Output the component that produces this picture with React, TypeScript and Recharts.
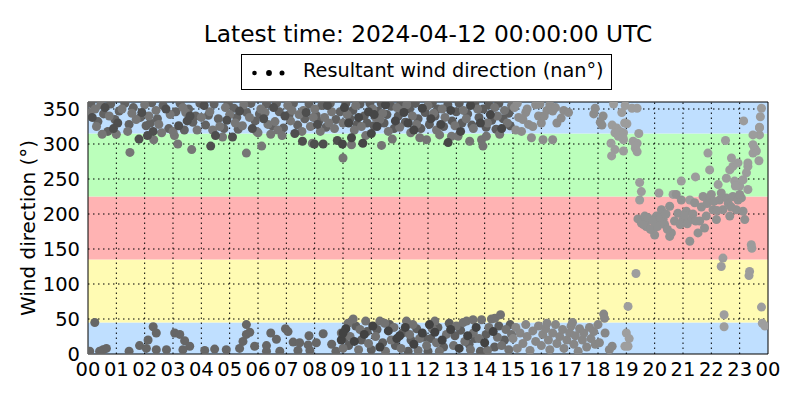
import React from 'react';
import {
  ScatterChart,
  Scatter,
  XAxis,
  YAxis,
  ZAxis,
  ReferenceArea,
  ReferenceLine,
} from 'recharts';

// hour of day (0-24) and wind direction in degrees
type Pair = [number, number];

const hourTicks = [0, 1, 2, 3, 4, 5, 6, 7, 8, 9, 10, 11, 12, 13, 14, 15, 16, 17, 18, 19, 20, 21, 22, 23, 24];
const hourLabels = ['00', '01', '02', '03', '04', '05', '06', '07', '08', '09', '10', '11', '12', '13', '14', '15', '16', '17', '18', '19', '20', '21', '22', '23', '00'];
const degTicks = [0, 50, 100, 150, 200, 250, 300, 350];

// compass sectors behind the points (N, E, S, W, N)
const sectorLows = [0, 45, 135, 225, 315];
const sectorHighs = [45, 135, 225, 315, 360];
const sectorColors = ['#bfdfff', '#fffbb3', '#ffb3b3', '#bbffbb', '#bfdfff'];

const earlyTopDark: Pair[] = [
  [0.15, 338], [0.6, 352], [1.05, 330], [1.9, 345], [2.3, 318], [2.75, 350], [3.2, 326], [3.6, 340],
  [4.1, 355], [4.5, 312], [4.9, 334], [5.35, 347], [5.8, 322], [6.2, 336], [6.55, 352], [6.95, 340],
  [7.3, 315], [7.7, 345], [8.1, 328], [8.45, 355], [8.8, 305], [7.99, 300], [8.3, 300], [2.1, 312],
  [5.1, 310], [3.5, 333], [0.9, 322], [1.8, 307], [7.57, 304], [4.33, 297],
];

const earlyTopMid: Pair[] = [
  [0.05, 345], [0.3, 325], [0.45, 356], [0.75, 340], [1.2, 350], [1.4, 318], [1.7, 335], [2.0, 356],
  [2.15, 340], [2.5, 328], [2.9, 342], [3.05, 312], [3.35, 352], [3.85, 320], [4.0, 338], [4.3, 346],
  [4.65, 325], [4.75, 310], [5.0, 342], [5.2, 330], [5.5, 356], [5.7, 338], [6.0, 316], [6.1, 350],
  [6.35, 328], [6.7, 320], [6.85, 312], [7.05, 355], [7.15, 333], [7.45, 342], [7.55, 318], [7.85, 325],
  [8.0, 350], [8.2, 318], [8.35, 338], [8.6, 346], [8.7, 322], [1.0, 314], [2.6, 316], [4.4, 320],
  [6.45, 314], [0.5, 314], [3.0, 318], [5.95, 318], [7.6, 348], [1.48, 288], [5.59, 287], [3.17, 300],
  [3.66, 292], [6.13, 297], [7.92, 301], [2.32, 306], [0.25, 350], [1.55, 344], [2.4, 348], [3.45, 345],
  [4.85, 352], [5.45, 326], [6.25, 345], [6.6, 332], [7.2, 348], [7.95, 338], [8.5, 330],
];

const earlyTopExtra: Pair[] = [
  [0.1, 358], [0.35, 332], [0.55, 343], [0.8, 357], [0.95, 335], [1.1, 347], [1.3, 358], [1.45, 328],
  [1.6, 352], [1.85, 338], [2.05, 326], [2.25, 359], [2.45, 336], [2.65, 355], [2.85, 322], [3.1, 346],
  [3.25, 358], [3.4, 320], [3.55, 350], [3.7, 331], [3.95, 358], [4.15, 327], [4.25, 341], [4.45, 357],
  [4.6, 336], [4.8, 322], [4.95, 358], [5.15, 351], [5.3, 321], [5.6, 345], [5.75, 358], [5.9, 333],
  [6.05, 343], [6.3, 357], [6.5, 326], [6.75, 346], [6.9, 323], [7.1, 342], [7.25, 358], [7.4, 327],
  [7.65, 336], [7.8, 357], [8.05, 341], [8.25, 355], [8.4, 324], [8.55, 358], [8.75, 335], [8.9, 346],
  [0.7, 318], [2.2, 330], [3.8, 340], [5.25, 338], [6.65, 358], [8.15, 333],
];

const earlyBottom: Pair[] = [
  [0.24, 45], [0.06, 4], [0.53, 6], [0.65, 8], [0.41, 4], [1.45, 4], [1.82, 12], [2.06, 8],
  [2.3, 39], [2.41, 30], [2.12, 20], [2.41, 6], [2.77, 6], [3.06, 30], [3.24, 28], [3.41, 19],
  [3.59, 11], [3.35, 6], [4.12, 5], [4.47, 7], [4.88, 6], [5.35, 8], [5.47, 18], [5.59, 28],
  [5.71, 31], [5.59, 42], [5.88, 11], [6.3, 4], [6.3, 12], [6.45, 30], [6.65, 21], [6.97, 36],
  [7.06, 32], [7.24, 17], [7.47, 16], [7.41, 5], [6.77, 4], [7.8, 26], [7.77, 13], [8.06, 16],
  [7.83, 5], [8.3, 29], [8.6, 14], [8.75, 4],
];

const midTopDark: Pair[] = [
  [9.05, 352], [9.3, 309], [9.55, 338], [9.9, 346], [10.2, 325], [10.5, 356], [10.85, 333], [11.15, 345],
  [11.5, 320], [11.8, 351], [12.1, 336], [12.45, 328], [12.8, 348], [13.15, 318], [13.5, 355], [13.85, 330],
  [14.2, 342], [14.6, 322], [10.0, 315], [11.3, 330], [9.7, 301], [8.98, 300], [12.71, 302], [9.2, 330],
  [10.1, 342],
];

const midTopMid: Pair[] = [
  [9.0, 330], [9.15, 342], [9.4, 320], [9.45, 355], [9.65, 325], [9.8, 312], [10.05, 350], [10.15, 338],
  [10.36, 298], [10.4, 344], [10.6, 318], [10.74, 307], [10.9, 352], [11.0, 324], [11.25, 356], [11.39, 316],
  [11.45, 340], [11.6, 328], [11.71, 309], [11.95, 306], [12.0, 355], [12.2, 344], [12.41, 313], [12.6, 338],
  [12.83, 311], [12.95, 326], [13.06, 311], [13.25, 348], [13.35, 336], [13.47, 304], [13.6, 322], [13.75, 350],
  [13.89, 306], [13.94, 297], [14.06, 311], [14.1, 330], [14.35, 352], [14.45, 340], [14.53, 314], [14.7, 348],
  [14.8, 330], [14.95, 355], [9.3, 299], [9.0, 280], [12.3, 320], [10.3, 335], [11.1, 348], [12.5, 350],
];

const midTopExtra: Pair[] = [
  [9.1, 358], [9.25, 336], [9.35, 348], [9.5, 328], [9.6, 357], [9.75, 340], [9.85, 330], [9.95, 358],
  [10.1, 326], [10.25, 347], [10.35, 358], [10.45, 330], [10.55, 342], [10.7, 354], [10.8, 322], [10.95, 340],
  [11.05, 358], [11.2, 331], [11.35, 350], [11.55, 358], [11.65, 336], [11.75, 322], [11.9, 345], [12.05, 328],
  [12.15, 358], [12.25, 340], [12.35, 350], [12.55, 325], [12.7, 356], [12.85, 333], [13.0, 346], [13.1, 358],
  [13.2, 330], [13.4, 343], [13.55, 327], [13.65, 358], [13.8, 338], [13.95, 350], [14.05, 324], [14.15, 356],
  [14.25, 334], [14.4, 321], [14.5, 358], [14.65, 336], [14.85, 344], [14.9, 326],
];

const midBottomDark: Pair[] = [
  [9.1, 36], [9.4, 18], [9.75, 28], [10.05, 40], [10.3, 10], [10.6, 33], [10.9, 22], [11.2, 38],
  [11.5, 14], [11.8, 30], [12.05, 42], [12.24, 31], [12.5, 20], [12.8, 35], [13.1, 8], [13.4, 26],
  [13.7, 38], [14.0, 16], [14.3, 32], [8.94, 20], [11.0, 26], [9.0, 30],
];

const midBottomMid: Pair[] = [
  [8.94, 30], [9.0, 8], [9.18, 44], [9.25, 25], [9.36, 50], [9.55, 6], [9.6, 35], [9.8, 47],
  [9.9, 15], [10.15, 25], [10.3, 47], [10.47, 44], [10.5, 4], [10.7, 20], [10.8, 38], [11.05, 8],
  [11.24, 47], [11.35, 28], [11.47, 42], [11.65, 5], [11.7, 22], [11.95, 12], [12.15, 36], [12.24, 47],
  [12.3, 16], [12.4, 4], [12.65, 28], [12.9, 12], [13.0, 40], [13.24, 45], [13.3, 18], [13.36, 47],
  [13.5, 6], [13.59, 49], [13.6, 30], [13.8, 22], [13.89, 49], [14.1, 5], [14.15, 38], [14.24, 50],
  [14.36, 51], [14.45, 24], [14.56, 56], [14.6, 12], [14.75, 35], [14.85, 6], [14.95, 28],
];

const midBottomExtra: Pair[] = [
  [9.05, 22], [9.2, 12], [9.45, 40], [9.65, 20], [9.85, 32], [10.0, 6], [10.2, 35], [10.4, 16],
  [10.65, 42], [10.85, 12], [11.1, 30], [11.3, 4], [11.4, 20], [11.6, 36], [11.85, 24], [12.0, 4],
  [12.1, 22], [12.35, 38], [12.55, 10], [12.75, 44], [12.95, 26], [13.15, 34], [13.45, 14], [13.65, 22],
  [13.85, 4], [14.05, 28], [14.35, 10], [14.5, 40], [14.7, 20], [14.9, 42],
];

const afternoonTop: Pair[] = [
  [15.05, 352], [15.2, 338], [15.3, 318], [15.45, 345], [15.65, 309], [15.8, 356], [16.06, 306], [16.0, 330],
  [16.2, 348], [16.4, 306], [16.55, 330], [16.7, 337], [16.79, 348], [16.96, 345], [16.4, 347], [15.55, 328],
  [15.9, 340], [15.1, 320], [17.85, 343], [17.9, 351], [18.08, 331], [18.14, 327], [18.18, 340],
  [15.15, 358], [15.35, 335], [15.5, 350], [15.7, 325], [15.95, 357], [16.1, 340], [16.3, 356], [16.5, 352],
];

const afternoonBottom: Pair[] = [
  [15.0, 22], [15.1, 38], [15.15, 8], [15.25, 30], [15.35, 15], [15.45, 42], [15.5, 25], [15.6, 5],
  [15.7, 33], [15.8, 18], [15.9, 40], [16.0, 12], [16.05, 28], [16.15, 36], [16.25, 20], [16.3, 6],
  [16.4, 30], [16.5, 42], [16.55, 15], [16.65, 25], [16.75, 35], [16.8, 8], [16.9, 20], [17.0, 30],
  [17.05, 40], [17.15, 14], [17.2, 26], [17.3, 4], [17.35, 36], [17.45, 20], [17.5, 30], [17.6, 10],
  [17.7, 38], [17.75, 22], [17.85, 32], [17.9, 14], [18.0, 42], [18.05, 16], [18.2, 57], [18.23, 51],
  [18.25, 30], [18.4, 6], [18.5, 11], [17.1, 45], [16.2, 44],
];

const eveningTop: Pair[] = [
  [18.55, 357], [18.5, 327], [18.66, 323], [18.78, 318], [18.6, 316], [18.9, 316], [18.72, 311], [18.9, 306],
  [18.46, 301], [18.6, 292], [18.48, 283], [18.9, 290], [19.38, 301], [19.32, 294], [19.38, 289], [19.44, 315],
  [19.02, 329], [18.96, 355], [19.38, 351], [18.84, 345], [19.2, 351], [19.24, 304], [19.33, 298], [18.88, 309],
  [18.94, 330],
];

const eveningLow: Pair[] = [
  [19.06, 68], [19.0, 30], [18.95, 11], [19.06, 11], [19.1, 22], [19.34, 115], [22.45, 56], [22.45, 39],
  [23.77, 67], [23.8, 44], [23.89, 40],
];

const eveningCluster: Pair[] = [
  [19.41, 193], [19.53, 187], [19.65, 197], [19.7, 182], [19.82, 192], [19.94, 178], [20.0, 170], [20.06, 197],
  [20.18, 187], [20.3, 192], [20.24, 206], [20.53, 211], [20.59, 173], [20.53, 168], [20.76, 228], [20.82, 201],
  [20.94, 220], [21.0, 192], [21.12, 204], [21.24, 161], [21.29, 192], [21.41, 216], [21.53, 173], [21.59, 190],
  [21.71, 225], [21.76, 180], [21.82, 197], [21.94, 220], [22.0, 228], [22.06, 206], [22.18, 192], [22.29, 220],
  [22.41, 206], [22.53, 223], [22.65, 197], [22.76, 225], [22.88, 206], [22.94, 220], [23.06, 223], [23.18, 192],
  [23.12, 204], [19.6, 185], [19.75, 195], [19.85, 178], [19.95, 190], [20.1, 182], [20.2, 195], [20.35, 185],
  [20.4, 200], [20.45, 178], [20.7, 190], [20.9, 185], [21.05, 198], [21.15, 186], [21.35, 200], [21.45, 190],
  [21.65, 210], [21.85, 215], [22.1, 218], [22.2, 205], [22.35, 230], [22.6, 215], [22.7, 210], [23.0, 228],
];

const eveningRise: Pair[] = [
  [22.24, 242], [22.53, 251], [22.82, 247], [23.0, 240], [23.12, 249], [23.24, 259], [23.29, 235], [23.29, 268],
  [22.65, 263], [22.76, 268], [22.94, 273], [22.71, 280], [21.88, 287], [21.94, 263], [21.44, 253], [20.94, 247],
  [20.15, 230], [19.47, 245], [19.53, 232], [19.47, 220], [20.65, 228], [21.24, 220], [23.29, 273], [23.47, 287],
  [23.53, 294], [23.59, 290], [23.68, 276], [23.47, 299], [23.7, 313], [23.47, 313], [23.7, 324], [23.14, 333],
  [22.5, 305], [23.77, 351], [23.73, 339], [23.7, 323], [22.85, 240], [23.41, 156], [23.43, 151], [22.41, 137],
  [22.35, 125], [23.35, 118], [23.33, 112],
];

const toPoints = (pairs: Pair[]) => pairs.map(([hour, deg]) => ({ hour, deg }));

const series = [
  { name: 'earlyTopExtra', data: earlyTopExtra, color: '#626262' },
  { name: 'earlyTopMid', data: earlyTopMid, color: '#767676' },
  { name: 'earlyTopDark', data: earlyTopDark, color: '#4e4e4e' },
  { name: 'earlyBottom', data: earlyBottom, color: '#666666' },
  { name: 'midTopExtra', data: midTopExtra, color: '#5c5c5c' },
  { name: 'midTopMid', data: midTopMid, color: '#747474' },
  { name: 'midTopDark', data: midTopDark, color: '#464646' },
  { name: 'midBottomExtra', data: midBottomExtra, color: '#5e5e5e' },
  { name: 'midBottomMid', data: midBottomMid, color: '#727272' },
  { name: 'midBottomDark', data: midBottomDark, color: '#424242' },
  { name: 'afternoonTop', data: afternoonTop, color: '#8c8c8c' },
  { name: 'afternoonBottom', data: afternoonBottom, color: '#878787' },
  { name: 'eveningTop', data: eveningTop, color: '#9c9c9c' },
  { name: 'eveningLow', data: eveningLow, color: '#9e9e9e' },
  { name: 'eveningRise', data: eveningRise, color: '#9c9c9c' },
  { name: 'eveningCluster', data: eveningCluster, color: '#919191' },
];

const font = '"DejaVu Sans", sans-serif';
const gridDash = '1.5 3.5';

export default function App() {
  return (
    <div style={{ position: 'fixed', left: 0, top: 0, width: 800, height: 400, background: '#fff', fontFamily: font }}>
      {/* title */}
      <div style={{ position: 'absolute', left: 88, top: 22, width: 680, textAlign: 'center', fontSize: 23.3, lineHeight: 1, color: '#000', whiteSpace: 'nowrap' }}>
        Latest time: 2024-04-12 00:00:00 UTC
      </div>
      {/* legend box */}
      <div style={{ position: 'absolute', left: 241, top: 54, width: 369, height: 34, border: '1px solid #000', background: '#fff', zIndex: 2 }}>
        <svg width={50} height={34} style={{ position: 'absolute', left: 0, top: 0 }}>
          <circle cx={12.5} cy={18} r={2.3} fill="#000" />
          <circle cx={27} cy={18} r={2.9} fill="#000" />
          <circle cx={40} cy={18} r={2.5} fill="#000" />
        </svg>
        <div style={{ position: 'absolute', left: 61, top: 5.5, fontSize: 19.3, lineHeight: 1, whiteSpace: 'nowrap', color: '#000' }}>
          Resultant wind direction (nan°)
        </div>
      </div>
      <ScatterChart width={800} height={400} margin={{ top: 102, right: 32, bottom: 16, left: 28 }}>
        <XAxis
          type="number"
          dataKey="hour"
          domain={[0, 24]}
          ticks={hourTicks}
          tickFormatter={(v: number) => hourLabels[hourTicks.indexOf(v)]}
          interval={0}
          height={30}
          tickLine={false}
          axisLine={{ stroke: '#000', strokeWidth: 1 }}
          tick={{ fill: '#000', fontSize: 19.5, fontFamily: font }}
          allowDataOverflow
        />
        <YAxis
          type="number"
          dataKey="deg"
          domain={[0, 360]}
          ticks={degTicks}
          interval={0}
          width={60}
          tickLine={false}
          axisLine={{ stroke: '#000', strokeWidth: 1 }}
          tick={{ fill: '#000', fontSize: 19.5, fontFamily: font }}
          allowDataOverflow
          label={{ value: 'Wind direction (°)', angle: -90, position: 'center', dx: -30, fill: '#000', fontSize: 20, fontFamily: font }}
        />
        <ZAxis range={[52, 52]} />
        {sectorLows.map((lo, i) => (
          <ReferenceArea key={'s' + i} y1={lo} y2={sectorHighs[i]} x1={0} x2={24} fill={sectorColors[i]} fillOpacity={1} stroke="none" />
        ))}
        {degTicks.slice(1).map((d) => (
          <ReferenceLine key={'h' + d} y={d} stroke="#000" strokeDasharray={gridDash} strokeWidth={1} />
        ))}
        {hourTicks.slice(1, -1).map((h) => (
          <ReferenceLine key={'v' + h} x={h} stroke="#000" strokeDasharray={gridDash} strokeWidth={1} />
        ))}
        <ReferenceLine y={360} stroke="#000" strokeWidth={1} />
        <ReferenceLine x={24} stroke="#000" strokeWidth={1} />
        {series.map((s) => (
          <Scatter key={s.name} name={s.name} data={toPoints(s.data)} fill={s.color} stroke="none" isAnimationActive={false} />
        ))}
      </ScatterChart>
    </div>
  );
}
